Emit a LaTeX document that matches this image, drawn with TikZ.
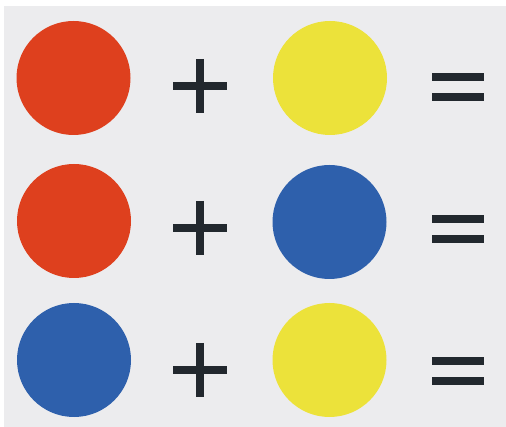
\documentclass[tikz,border=0pt]{standalone}
\usepackage{xcolor}
\usepackage{tikz}
\usetikzlibrary{positioning}
\definecolor{PaperGray}{RGB}{236, 236, 238}
\definecolor{PaintRed}{RGB}{222, 64, 30}
\definecolor{PaintYellow}{RGB}{236, 226, 58}
\definecolor{PaintBlue}{RGB}{46, 96, 172}
\definecolor{SignInk}{RGB}{34, 40, 46}

\begin{document}
\begin{tikzpicture}[
        x=1pt, y=-1pt,
        paint/.style={circle, inner sep=0pt, minimum size=114pt},
        red paint/.style={paint, fill=PaintRed},
        yellow paint/.style={paint, fill=PaintYellow},
        blue paint/.style={paint, fill=PaintBlue},
        sign/.style={draw=SignInk, line width=7.5pt}
    ]

    % Papier
    \fill[white] (0,0) rectangle (506,427);
    \fill[PaperGray] (4,6) rectangle (506,427);
    \useasboundingbox (0,0) rectangle (506,427);

    % Rzad 1: czerwony + zolty
    \node[red paint] (r1a) at (73.5,78) {};
    \node[yellow paint] (r1b) at (330,78) {};
    \coordinate (plus1) at (200,86);
    \coordinate (eq1) at (458,87);

    % Rzad 2: czerwony + niebieski
    \node[red paint] (r2a) at (74,221) {};
    \node[blue paint] (r2b) at (329.5,222) {};
    \coordinate (plus2) at (200,228);
    \coordinate (eq2) at (458,229.5);

    % Rzad 3: niebieski + zolty
    \node[blue paint] (r3a) at (74,360) {};
    \node[yellow paint] (r3b) at (329.5,360) {};
    \coordinate (plus3) at (200,370);
    \coordinate (eq3) at (458,371.5);

    % Znaki plus
    \draw[sign] (plus1) ++(-27,0) -- ++(54,0);
    \draw[sign] (plus1) ++(0,-27) -- ++(0,54);
    \draw[sign] (plus2) ++(-27,0) -- ++(54,0);
    \draw[sign] (plus2) ++(0,-27) -- ++(0,54);
    \draw[sign] (plus3) ++(-27,0) -- ++(54,0);
    \draw[sign] (plus3) ++(0,-27) -- ++(0,54);

    % Znaki rownosci
    \draw[sign, line width=8pt] (eq1) ++(-26,-10) -- ++(52,0);
    \draw[sign, line width=8pt] (eq1) ++(-26,10) -- ++(52,0);
    \draw[sign, line width=8pt] (eq2) ++(-26,-10) -- ++(52,0);
    \draw[sign, line width=8pt] (eq2) ++(-26,10) -- ++(52,0);
    \draw[sign, line width=8pt] (eq3) ++(-26,-10) -- ++(52,0);
    \draw[sign, line width=8pt] (eq3) ++(-26,10) -- ++(52,0);

\end{tikzpicture}
\end{document}
